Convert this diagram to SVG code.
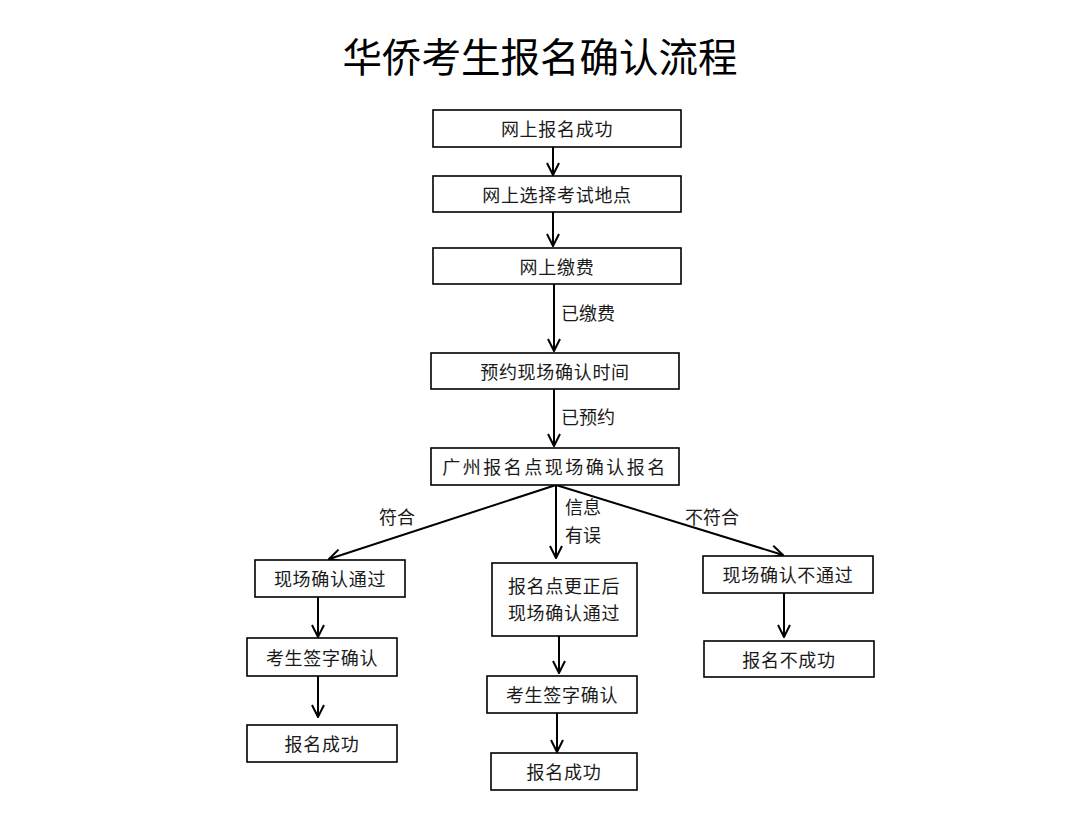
<svg xmlns="http://www.w3.org/2000/svg" width="1080" height="821" viewBox="0 0 1080 821">
<defs>
<style>
.box{fill:#fff;stroke:#000;stroke-width:1.6}
.t{font-family:"Noto Sans CJK SC","Noto Sans",sans-serif;font-size:18px;fill:#1a1a1a;text-anchor:middle;letter-spacing:0.7px}
.lbl{font-family:"Noto Sans CJK SC","Noto Sans",sans-serif;font-size:18px;fill:#1a1a1a;text-anchor:middle}
.title{font-family:"Noto Sans CJK SC","Noto Sans",sans-serif;font-size:39.5px;fill:#000;text-anchor:middle;font-weight:normal}
.c{fill:none;stroke:#000;stroke-width:2}
</style>
<marker id="ah" viewBox="0 0 14 14" refX="13" refY="7" markerWidth="14" markerHeight="14" markerUnits="userSpaceOnUse" orient="auto">
<path d="M1,1 L13,7 L1,13" fill="none" stroke="#000" stroke-width="2"/>
</marker>
</defs>
<rect width="1080" height="821" fill="#fff"/>
<text class="title" x="540" y="72">华侨考生报名确认流程</text>

<g id="connectors">
<line class="c" x1="553" y1="147" x2="553" y2="175" marker-end="url(#ah)"/>
<line class="c" x1="553" y1="212" x2="553" y2="246" marker-end="url(#ah)"/>
<line class="c" x1="554" y1="284" x2="554" y2="351" marker-end="url(#ah)"/>
<line class="c" x1="554" y1="389" x2="554" y2="446" marker-end="url(#ah)"/>
<line class="c" x1="556" y1="485" x2="329" y2="559" marker-end="url(#ah)"/>
<line class="c" x1="556" y1="485" x2="556" y2="558" marker-end="url(#ah)"/>
<line class="c" x1="556" y1="485" x2="783" y2="555" marker-end="url(#ah)"/>
<line class="c" x1="318" y1="597" x2="318" y2="637" marker-end="url(#ah)"/>
<line class="c" x1="318" y1="676" x2="318" y2="717" marker-end="url(#ah)"/>
<line class="c" x1="559" y1="636" x2="559" y2="673" marker-end="url(#ah)"/>
<line class="c" x1="557" y1="713" x2="557" y2="752" marker-end="url(#ah)"/>
<line class="c" x1="784" y1="593" x2="784" y2="637" marker-end="url(#ah)"/>
<text class="lbl" x="588" y="320">已缴费</text>
<text class="lbl" x="588" y="424">已预约</text>
<text class="lbl" x="397" y="524">符合</text>
<text class="lbl" x="583" y="514">信息</text>
<text class="lbl" x="583" y="542">有误</text>
<text class="lbl" x="712" y="524">不符合</text>
</g>

<g id="n1"><rect class="box" x="433" y="110" width="248" height="37"/><text class="t" x="557" y="136">网上报名成功</text></g>
<g id="n2"><rect class="box" x="433" y="176" width="248" height="36"/><text class="t" x="557" y="202">网上选择考试地点</text></g>
<g id="n3"><rect class="box" x="433" y="248" width="248" height="36"/><text class="t" x="557" y="274">网上缴费</text></g>
<g id="n4"><rect class="box" x="431" y="353" width="248" height="36"/><text class="t" x="555" y="379">预约现场确认时间</text></g>
<g id="n5"><rect class="box" x="431" y="448" width="248" height="37"/><text class="t" x="555" y="474" style="letter-spacing:2.5px">广州报名点现场确认报名</text></g>
<g id="n6"><rect class="box" x="255" y="560" width="150" height="37"/><text class="t" x="330" y="586">现场确认通过</text></g>
<g id="n7"><rect class="box" x="492" y="563" width="145" height="73"/><text class="t" x="564" y="593">报名点更正后</text><text class="t" x="564" y="620">现场确认通过</text></g>
<g id="n8"><rect class="box" x="703" y="556" width="170" height="37"/><text class="t" x="788" y="582">现场确认不通过</text></g>
<g id="n9"><rect class="box" x="247" y="638" width="150" height="38"/><text class="t" x="322" y="665">考生签字确认</text></g>
<g id="n10"><rect class="box" x="247" y="725" width="150" height="37"/><text class="t" x="322" y="751">报名成功</text></g>
<g id="n11"><rect class="box" x="487" y="676" width="150" height="37"/><text class="t" x="562" y="702">考生签字确认</text></g>
<g id="n12"><rect class="box" x="491" y="753" width="146" height="37"/><text class="t" x="564" y="779">报名成功</text></g>
<g id="n13"><rect class="box" x="704" y="641" width="170" height="36"/><text class="t" x="789" y="667">报名不成功</text></g>
</svg>
